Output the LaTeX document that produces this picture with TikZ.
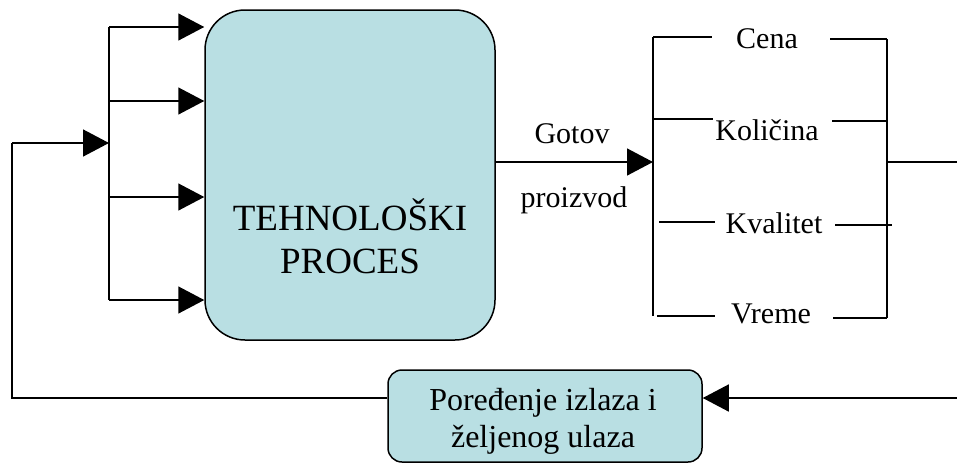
\documentclass[tikz,border=0pt]{standalone}
\usepackage{fontspec}
\setmainfont{Liberation Serif}
\usetikzlibrary{arrows.meta}
\definecolor{procfill}{RGB}{185,223,227}
\begin{document}
\begin{tikzpicture}[x=1pt,y=-1pt,
  wire/.style={line width=1.5pt},
  feed/.style={wire,-{Triangle[length=26pt,width=27pt]}},
  block/.style={draw,line width=1.5pt,fill=procfill,inner sep=0pt},
  lbl/.style={font=\fontsize{30}{36}\selectfont,inner sep=0pt,anchor=base},
  cmplbl/.style={font=\fontsize{32}{37}\selectfont,inner sep=0pt,anchor=base},
  biglbl/.style={font=\fontsize{37}{43}\selectfont,inner sep=0pt,anchor=base},
]
\useasboundingbox (0,0) rectangle (957,464);

% process block
\node[block,rounded corners=40pt,minimum width=290pt,minimum height=330pt] (proc) at (350,175) {};
\node[biglbl] (procA) at (350,230) {TEHNOLOŠKI};
\node[biglbl] (procB) at (350,273) {PROCES};

% comparison block
\node[block,rounded corners=14pt,minimum width=314pt,minimum height=92pt] (cmp) at (545,416) {};
\node[cmplbl] (cmpA) at (543,410) {Poređenje izlaza i};
\node[cmplbl] (cmpB) at (543,447) {željenog ulaza};

% input bus
\coordinate (busT) at (109,27);
\coordinate (busB) at (109,300);
\coordinate (bus2) at (109,101);
\coordinate (bus3) at (109,197);
\draw[wire] (busT) -- (busB);
\draw[feed] (busT) -- (busT -| proc.west);
\draw[feed] (bus2) -- (bus2 -| proc.west);
\draw[feed] (bus3) -- (bus3 -| proc.west);
\draw[feed] (busB) -- (busB -| proc.west);

% feedback loop
\coordinate (fbT) at (12,143);
\coordinate (fbB) at (12,398);
\coordinate (retR) at (957,398);
\draw[feed] (retR) -- (retR -| cmp.east);
\draw[wire] (cmp.west |- fbB) -- (fbB) -- (fbT);
\draw[feed] (fbT) -- (fbT -| busT);

% output bracket
\coordinate (brTL) at (653,37);
\coordinate (brBL) at (653,316);
\coordinate (brTR) at (887,39);
\coordinate (brBR) at (887,318);
\coordinate (gp) at (653,162);
\coordinate (outR) at (957,162);
\draw[wire] (brTL) -- (brBL);
\draw[wire] (brTR) -- (brBR);
\draw[feed] (proc.east |- gp) -- (gp);
\draw[wire] (brTR |- outR) -- (outR);
\node[lbl] (gotA) at (572,143) {Gotov};
\node[lbl] (gotB) at (574,207) {proizvod};

\node[lbl] (cena) at (767,48) {Cena};
\node[lbl] (kol) at (767,140) {Količina};
\node[lbl] (kval) at (774,233) {Kvalitet};
\node[lbl] (vreme) at (771,323) {Vreme};

\draw[wire] (brTL) -- (712,37);
\draw[wire] (830,39) -- (brTR);
\draw[wire] (653,119) -- (713,119);
\draw[wire] (832,121) -- (887,121);
\draw[wire] (659,222) -- (715,222);
\draw[wire] (835,225) -- (892,225);
\draw[wire] (657,316) -- (715,316);
\draw[wire] (833,318) -- (brBR);
\end{tikzpicture}
\end{document}
